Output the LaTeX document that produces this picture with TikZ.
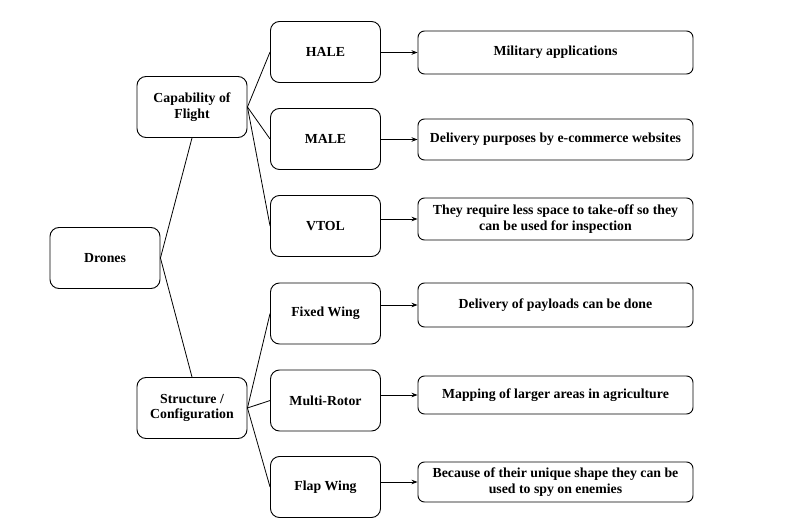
\documentclass[tikz,border=0pt]{standalone}
\usepackage{fontspec}
\setmainfont{Liberation Serif}
\usetikzlibrary{arrows.meta}
\begin{document}
\begin{tikzpicture}[x=1pt,y=-1pt,
  every node/.style={font=\bfseries\fontsize{13.8}{15.5}\selectfont, align=center, inner sep=0pt},
  lbox/.style={draw, line width=0.9pt, rounded corners=9pt, minimum width=110pt, minimum height=61pt},
  rbox/.style={draw, line width=0.9pt, rounded corners=6.5pt, minimum width=275pt},
  conn/.style={line width=0.8pt},
  arr/.style={line width=0.8pt, -{Stealth[length=6pt,width=4.5pt]}}
]
\useasboundingbox (0,0) rectangle (804,532);
% left/middle column
\node[lbox] (drones) at (105,258) {Drones};
\node[lbox] (cap) at (192,107) {Capability of\\Flight};
\node[lbox] (str) at (192,408) {Structure /\\Configuration};
\node[lbox] (hale) at (325.5,52) {HALE};
\node[lbox] (male) at (325.5,139) {MALE};
\node[lbox] (vtol) at (325.5,226) {VTOL};
\node[lbox] (fixed) at (325.5,313.5) {Fixed Wing};
\node[lbox] (multi) at (325.5,400.5) {Multi-Rotor};
\node[lbox] (flap) at (325.5,487) {Flap Wing};
% right column
\node[rbox, minimum height=43pt] (mil) at (555.5,52.5) {Military applications};
\node[rbox, minimum height=41pt] (del) at (555.5,139.5) {Delivery purposes by e-commerce websites};
\node[rbox, minimum height=42pt] (they) at (555.5,219) {They require less space to take-off so they\\can be used for inspection};
\node[rbox, minimum height=44pt] (pay) at (555.5,305) {Delivery of payloads can be done};
\node[rbox, minimum height=38pt] (map) at (555.5,395) {Mapping of larger areas in agriculture};
\node[rbox, minimum height=40pt] (bec) at (555.5,482) {Because of their unique shape they can be\\used to spy on enemies};
% tree connectors
\draw[conn] (drones.east) -- (cap.south);
\draw[conn] (drones.east) -- (str.north);
\draw[conn] (cap.east) -- (hale.west);
\draw[conn] (cap.east) -- (male.west);
\draw[conn] (cap.east) -- (vtol.west);
\draw[conn] (str.east) -- (fixed.west);
\draw[conn] (str.east) -- (multi.west);
\draw[conn] (str.east) -- (flap.west);
% arrows
\draw[arr] (hale.east |- mil.west) -- (mil.west);
\draw[arr] (male.east |- del.west) -- (del.west);
\draw[arr] (vtol.east |- they.west) -- (they.west);
\draw[arr] (fixed.east |- pay.west) -- (pay.west);
\draw[arr] (multi.east |- map.west) -- (map.west);
\draw[arr] (flap.east |- bec.west) -- (bec.west);
\end{tikzpicture}
\end{document}
